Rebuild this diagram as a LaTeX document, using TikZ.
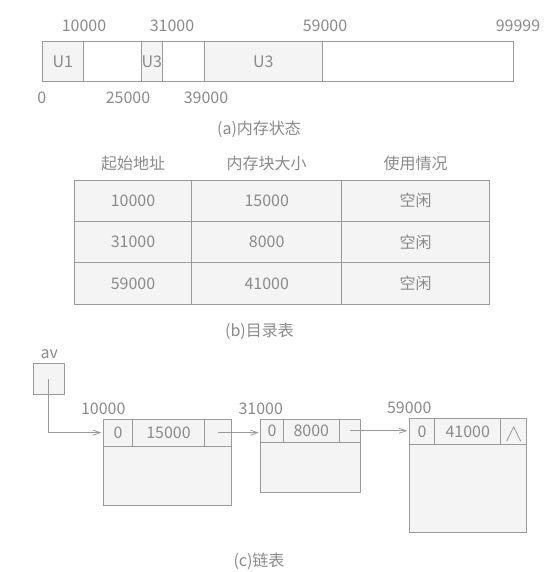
\documentclass[tikz,border=0pt]{standalone}
\usepackage{fontspec}
\setmainfont{Noto Sans CJK SC}
\usepackage{tikz}
\usetikzlibrary{positioning}
\usetikzlibrary{arrows.meta,calc}

\definecolor{linegray}{HTML}{9A9A9A}
\definecolor{textgray}{HTML}{8A8A8A}
\definecolor{cellgray}{HTML}{F4F4F4}

\tikzset{
  cell/.style={draw=linegray, line width=0.8pt, fill=cellgray, inner sep=0pt, outer sep=0pt, text=textgray},
  txt/.style={text=textgray, inner sep=0pt},
  ptr/.style={draw=linegray, line width=0.8pt, -{Straight Barb[length=7pt,width=5pt]}, shorten >=2pt}
}

\begin{document}
\begin{tikzpicture}[x=1pt, y=-1pt, font=\fontsize{16}{19}\selectfont]
 \useasboundingbox (0,0) rectangle (557,572);

 %(a) memory bar
 \foreach \i/\a/\b/\f/\name in { 1/42.3/83.3/cellgray/U1, 2/83.3/141.3/white/, 3/141.3/162.3/cellgray/U3, 4/162.3/204.3/white/, 5/204.3/322.3/cellgray/U3, 6/322.3/513/white/ } {
         \node[cell, fill=\f, anchor=west, minimum width={(\b-\a)*1pt}, minimum height=39.3pt] (seg\i) at (\a, 61.4) {\name};
 }

 \foreach \x/\name in { 84/10000, 172/31000, 325/59000, 518/99999 }
         \node[txt] (top\name) at (\x, 26) {\name};

 \foreach \x/\name in { 41.7/0, 128/25000, 206/39000 }
         \node[txt] (bottom\name) at (\x, 98) {\name};

 \node[txt] (capa) at (259, 129) {(a)内存状态};

 %(b) table
 \foreach \r/\a/\b in { 1/10000/15000, 2/31000/8000, 3/59000/41000 } {
         \node[cell, anchor=north west, minimum width=117.4pt, minimum height=41.4pt] (startaddr\r) at (74.3, {180+(\r-1)*41.4}) {\a};
         \node[cell, minimum width=150pt, minimum height=41.4pt, right=0pt of startaddr\r] (blocksize\r) {\b};
         \node[cell, minimum width=147.6pt, minimum height=41.4pt, right=0pt of blocksize\r] (usage\r) {空闲};
 }

 \node[txt] (headstart) at ($(startaddr1.north)+(0,-17)$) {起始地址};
 \node[txt] (headsize) at ($(blocksize1.north)+(0,-17)$) {内存块大小};
 \node[txt] (headusage) at ($(usage1.north)+(0,-17)$) {使用情况};

 \node[txt] (capb) at (259.5, 331.7) {(b)目录表};

 %(c) linked list
 \node[txt] (avname) at (49.3, 354) {av};
 \node[cell, minimum width=31pt, minimum height=30.7pt] (av) at (48.8, 378.7) {};

 \foreach \k/\x/\y/\wt/\ws/\wl/\hh/\hb/\sz/\addr in { 1/103.3/419.3/29.4/71.6/27/26.7/59/15000/10000, 2/260.7/419.3/22.6/56/21.4/23/50/8000/31000, 3/409.3/418.3/25.4/66/26/26/88.4/41000/59000 } {
         \node[cell, anchor=north west, minimum width={\wt*1pt}, minimum height={\hh*1pt}] (tag\k) at (\x, \y) {0};
         \node[cell, minimum width={\ws*1pt}, minimum height={\hh*1pt}, right=0pt of tag\k] (len\k) {\sz};
         \node[cell, minimum width={\wl*1pt}, minimum height={\hh*1pt}, right=0pt of len\k] (link\k) {};
         \node[cell, anchor=north west, minimum width={(\wt+\ws+\wl)*1pt}, minimum height={\hb*1pt}] (body\k) at (tag\k.south west) {};
         \node[txt, above=4.5pt of tag\k.north west] (addr\k) {\addr};
 }

 % lines
 \draw[ptr] (av.center) |- (tag1.west);
 \draw[ptr] (link1.center) -- (link1.center -| tag2.west);
 \draw[ptr] (link2.center) -- (link2.center -| tag3.west);

 % null pointer
 \draw[draw=linegray, line width=0.8pt] ($(link3.center)+(-7,10)$) -- ($(link3.center)+(0,-4.5)$) -- ($(link3.center)+(7,10)$);

 \node[txt] (capc) at (259, 561.7) {(c)链表};

\end{tikzpicture}
\end{document}
